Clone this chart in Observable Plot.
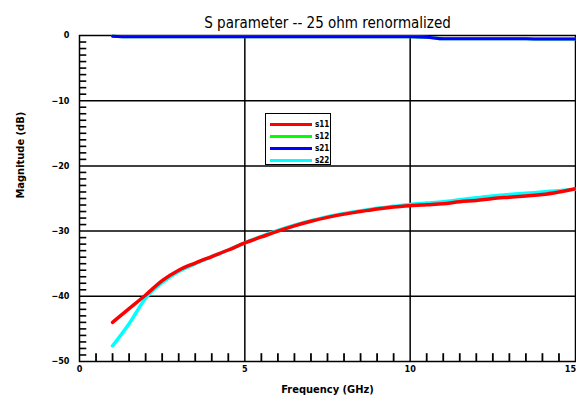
<!DOCTYPE html>
<html>
<head>
<meta charset="utf-8">
<script src="https://cdn.jsdelivr.net/npm/d3@7"></script>
<script src="https://cdn.jsdelivr.net/npm/@observablehq/plot@0.6"></script>
<style>
  html, body { margin: 0; padding: 0; background: #fff; }
  #wrap { position: relative; width: 576px; height: 407px; }
  #legend { position: absolute; left: 265px; top: 113px; width: 66px; height: 52px;
    border: 1px solid #000; background: #fff; box-sizing: border-box;
    font-family: "Liberation Sans Narrow", "DejaVu Sans Condensed", sans-serif; font-weight: bold; font-size: 8px; }
  .row { position: absolute; left: 4px; height: 12px; display: flex; align-items: center; }
  .sw { width: 42px; height: 3px; margin-right: 3px; }
</style>
</head>
<body>
<div id="wrap"><div id="legend"></div></div>
<script>
const titleText = "S parameter -- 25 ohm renormalized";
const xLabel = "Frequency (GHz)";
const yLabel = "Magnitude (dB)";
const seriesNames = ["s11", "s12", "s21", "s22"];
const seriesColors = ["#ff0000", "#00ff00", "#0000ff", "#00ffff"];
const xTicks = [0, 5, 10, 15];
const yTicks = [0, -10, -20, -30, -40, -50];
const xMinor = [0.5, 1, 1.5, 2, 2.5, 3, 3.5, 4, 4.5, 5.5, 6, 6.5, 7, 7.5, 8, 8.5, 9, 9.5, 10.5, 11, 11.5, 12, 12.5, 13, 13.5, 14, 14.5];
const yMinor = [-1, -2, -3, -4, -5, -6, -7, -8, -9, -11, -12, -13, -14, -15, -16, -17, -18, -19, -21, -22, -23, -24, -25, -26, -27, -28, -29, -31, -32, -33, -34, -35, -36, -37, -38, -39, -41, -42, -43, -44, -45, -46, -47, -48, -49];

const freq = [1, 1.5, 2, 2.5, 3, 3.5, 4, 4.5, 5, 5.5, 6, 6.5, 7, 7.5, 8, 8.5, 9, 9.5, 10, 10.5, 11, 11.5, 12, 12.5, 13, 13.5, 14, 14.5, 15];
const s11 = [-44.0, -41.9, -39.8, -37.6, -36.0, -34.9, -33.9, -32.9, -31.8, -30.9, -30.0, -29.2, -28.5, -27.9, -27.4, -27.0, -26.6, -26.3, -26.1, -25.95, -25.8, -25.5, -25.3, -25.0, -24.8, -24.6, -24.4, -24.0, -23.5];
const s22 = [-47.6, -44.2, -40.3, -37.9, -36.2, -35.0, -33.9, -32.9, -31.8, -30.8, -29.9, -29.1, -28.4, -27.8, -27.3, -26.9, -26.5, -26.2, -25.9, -25.7, -25.5, -25.2, -24.9, -24.6, -24.4, -24.2, -24.0, -23.8, -23.6];
const s21 = [-0.1, -0.2, -0.2, -0.2, -0.2, -0.2, -0.2, -0.2, -0.2, -0.2, -0.2, -0.2, -0.2, -0.2, -0.2, -0.2, -0.2, -0.2, -0.2, -0.25, -0.5, -0.5, -0.5, -0.5, -0.5, -0.5, -0.55, -0.55, -0.55];
const s12 = [-0.1, -0.2, -0.2, -0.2, -0.2, -0.2, -0.2, -0.2, -0.2, -0.2, -0.2, -0.2, -0.2, -0.2, -0.2, -0.2, -0.2, -0.2, -0.2, -0.25, -0.5, -0.5, -0.5, -0.5, -0.5, -0.5, -0.55, -0.55, -0.55];

const seriesValues = {s11, s12, s21, s22};
const rows = [];
for (const name of seriesNames) {
  freq.forEach((f, i) => rows.push({series: name, f, v: seriesValues[name][i]}));
}

const font = "'Liberation Sans Narrow', 'DejaVu Sans Condensed', sans-serif";
const colorScale = {domain: seriesNames, range: seriesColors};

const lineFor = (name, w) => Plot.line(rows.filter(d => d.series === name), {
  x: "f", y: "v", stroke: "series", strokeWidth: w, curve: "monotone-x"
});

const chart = Plot.plot({
  width: 576, height: 407,
  marginLeft: 79, marginRight: 1, marginTop: 35, marginBottom: 46,
  style: {fontFamily: font, background: "#fff"},
  x: {domain: [0, 15]},
  y: {domain: [-50, 0]},
  color: colorScale,
  marks: [
    Plot.gridX([5, 10], {stroke: "#000", strokeOpacity: 1, strokeWidth: 1.5}),
    Plot.gridY([-10, -20, -30, -40], {stroke: "#000", strokeOpacity: 1, strokeWidth: 1.5}),
    Plot.ruleX(xMinor, {x: d => d, y1: -50, y2: -48.8, stroke: "#000", strokeWidth: 1.8}),
    Plot.ruleY(yMinor, {y: d => d, x1: 0, x2: 0.22, stroke: "#000", strokeWidth: 1.6}),
    Plot.axisX([0, 5, 10], {tickSize: 0, tickPadding: 4, fontSize: 9, fontWeight: "bold", label: null}),
    Plot.axisX([15], {tickSize: 0, tickPadding: 4, fontSize: 9, fontWeight: "bold", label: null, dx: -5}),
    Plot.axisY(yTicks, {tickSize: 0, tickPadding: 10, fontSize: 9, fontWeight: "bold", label: null, tickFormat: d => d === 0 ? "0" : "\u2212" + Math.abs(d)}),
    Plot.frame({stroke: "#000", strokeWidth: 1.5}),
    lineFor("s12", 3),
    lineFor("s21", 3),
    lineFor("s22", 3.5),
    lineFor("s11", 3.5),
    Plot.text([titleText], {text: d => d, frameAnchor: "top", dy: -18, fontSize: 15, fill: "#000"}),
    Plot.text([xLabel], {text: d => d, frameAnchor: "bottom", dy: 31, fontSize: 11, fontWeight: "bold", fill: "#000"}),
    Plot.text([yLabel], {text: d => d, frameAnchor: "left", dx: -59, rotate: -90, fontSize: 11, fontWeight: "bold", fill: "#000"})
  ]
});
document.getElementById("wrap").prepend(chart);

const legend = document.getElementById("legend");
seriesNames.forEach((name, i) => {
  const row = document.createElement("div");
  row.className = "row";
  row.style.top = (4 + i * 12) + "px";
  const sw = document.createElement("span");
  sw.className = "sw";
  sw.style.background = seriesColors[i];
  const lab = document.createElement("span");
  lab.textContent = name;
  row.append(sw, lab);
  legend.append(row);
});
</script>
</body>
</html>
